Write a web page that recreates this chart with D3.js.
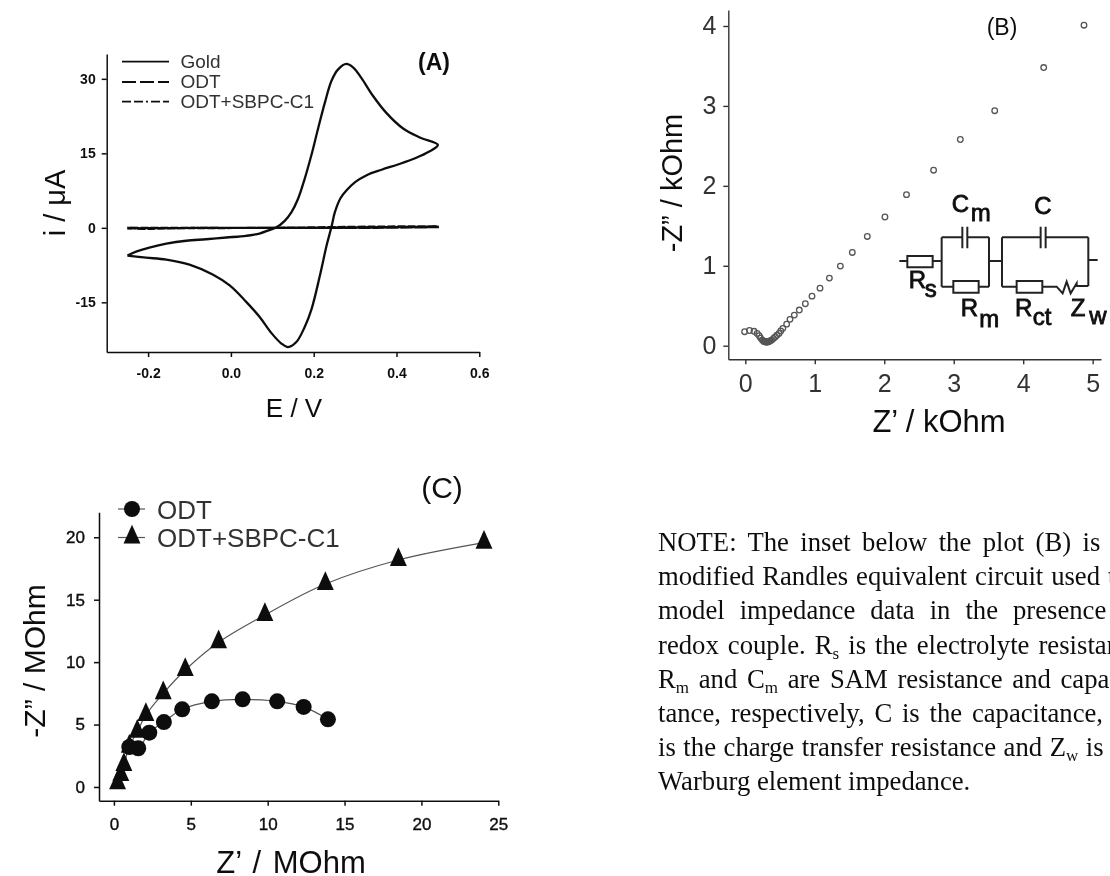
<!DOCTYPE html>
<html>
<head>
<meta charset="utf-8">
<script src="https://cdn.jsdelivr.net/npm/d3@7"></script>
<style>
	html, body { margin: 0; padding: 0; background: #fff; }
	text { font-family: "Liberation Sans", Arial, sans-serif; }
	.note { font-family: "Liberation Serif", "Times New Roman", serif; font-size: 26.7px; fill: #111; }
</style>
</head>
<body>
<script>
// Panel A: cyclic voltammograms, [E / V, i / uA]
var goldForward = [[-0.25,-5.6],[-0.229,-4.8],[-0.197,-4.0],[-0.156,-3.2],[-0.108,-2.6],[-0.06,-2.3],[-0.011,-1.95],[0.037,-1.6],[0.069,-1.15],[0.094,-0.4],[0.11,0.1],[0.13,1.4],[0.146,3.1],[0.162,5.8],[0.178,9.8],[0.194,14.5],[0.21,19.8],[0.227,25.2],[0.243,29.6],[0.259,31.9],[0.279,33],[0.295,32.3],[0.315,30.2],[0.343,26.6],[0.376,23.1],[0.416,20],[0.456,18.2],[0.5,16.7]];
var goldBackward = [[0.5,16.7],[0.478,15.3],[0.445,14],[0.405,12.8],[0.364,11.7],[0.328,10.6],[0.3,9.2],[0.28,7.6],[0.265,6],[0.251,3.1],[0.243,0.2],[0.231,-3.6],[0.215,-9.6],[0.195,-16.3],[0.178,-20],[0.158,-23],[0.138,-24],[0.122,-23.3],[0.098,-21.2],[0.069,-17.9],[0.037,-14.9],[-0.003,-11.6],[-0.044,-9.4],[-0.1,-7.4],[-0.156,-6.4],[-0.205,-6],[-0.25,-5.6]];
var odtCurve = [[-0.25,0],[-0.2,-0.05],[0,0],[0.2,0],[0.35,0.1],[0.5,0.15],[0.35,0],[0,0],[-0.25,-0.1]];
var sbpcCurve = [[-0.25,-0.05],[-0.2,-0.2],[-0.16,-0.1],[0.1,0],[0.35,0.25],[0.5,0.3],[0.2,0],[-0.25,0]];
var aXTicks = [-0.2, 0, 0.2, 0.4, 0.6];
var aYTicks = [-15, 0, 15, 30];
var aLegend = ['Gold', 'ODT', 'ODT+SBPC-C1'];

// Panel B: impedance, [Z' / kOhm, -Z'' / kOhm]
var bPoints = [[-0.01,0.175],[0.06,0.19],[0.125,0.18],[0.17,0.154],[0.2,0.125],[0.22,0.095],[0.245,0.07],[0.26,0.06],[0.27,0.054],[0.28,0.052],[0.285,0.05],[0.295,0.048],[0.3,0.048],[0.31,0.046],[0.32,0.048],[0.33,0.05],[0.34,0.054],[0.35,0.058],[0.36,0.062],[0.38,0.07],[0.405,0.09],[0.43,0.11],[0.455,0.13],[0.485,0.154],[0.51,0.185],[0.54,0.217],[0.595,0.27],[0.643,0.33],[0.705,0.383],[0.777,0.446],[0.864,0.525],[0.96,0.62],[1.075,0.72],[1.21,0.846],[1.368,0.996],[1.54,1.167],[1.756,1.367],[2.01,1.61],[2.32,1.89],[2.71,2.196],[3.095,2.58],[3.59,2.94],[4.295,3.48],[4.875,4.01]];
var bXTicks = [0, 1, 2, 3, 4, 5];
var bYTicks = [0, 1, 2, 3, 4];

// Panel C: impedance, [Z' / MOhm, -Z'' / MOhm]
var cOdt = [[1.0,3.2],[1.58,3.1],[2.3,4.35],[3.25,5.2],[4.44,6.22],[6.37,6.86],[8.37,7.02],[10.62,6.86],[12.34,6.41],[13.92,5.42]];
var cSbpc = [[0.24,0.29],[0.45,0.96],[0.65,1.76],[1.0,3.23],[1.52,4.43],[2.08,5.77],[3.21,7.5],[4.64,9.37],[6.81,11.59],[9.82,13.78],[13.75,16.26],[18.5,18.18],[24.07,19.57]];
var cXTicks = [0, 5, 10, 15, 20, 25];
var cYTicks = [0, 5, 10, 15, 20];
var cLegend = ['ODT', 'ODT+SBPC-C1'];

var noteLines = [
	['NOTE: The inset below the plot (B) is the'],
	['modified Randles equivalent circuit used to'],
	['model impedance data in the presence of'],
	['redox couple. R', {sub: 's'}, ' is the electrolyte resistance,'],
	['R', {sub: 'm'}, ' and C', {sub: 'm'}, ' are SAM resistance and capaci-'],
	['tance, respectively, C is the capacitance, R', {sub: 'ct'}],
	['is the charge transfer resistance and Z', {sub: 'w'}, ' is the'],
	['Warburg element impedance.']
];
var noteWordSpacing = [4.7, 1.2, 8.3, 2.4, 3, 3.1, 0.9, 0];

var svg = d3.select('body').append('svg')
	.attr('width', 1110)
	.attr('height', 876);

// Soft focus, the reference is a scanned figure
svg.append('defs').append('filter').attr('id', 'soft')
	.append('feGaussianBlur').attr('stdDeviation', 0.5);

var root = svg.append('g').attr('filter', 'url(#soft)');

var hyphenFormat = function(spec) {
	var f = d3.format(spec);
	return function(d) { return f(d).replace('\u2212', '-'); };
};

function styleAxis(g, color, width, labelSize, labelWeight) {
	g.selectAll('path, line').attr('stroke', color).attr('stroke-width', width);
	g.selectAll('text')
		.attr('fill', color)
		.style('font-size', labelSize + 'px')
		.style('font-weight', labelWeight);
}

function label(text, x, y, size, weight, rotate, color) {
	var t = root.append('text')
		.attr('text-anchor', 'middle')
		.attr('font-size', size)
		.attr('font-weight', weight || 400)
		.attr('fill', color || '#111')
		.text(text);
	if (rotate) t.attr('transform', 'translate(' + x + ',' + y + ') rotate(-90)');
	else t.attr('x', x).attr('y', y);
	return t;
}

// ---- Panel A ----
var ax = d3.scaleLinear().domain([-0.3, 0.6]).range([106.7, 479.3]);
var ay = d3.scaleLinear().domain([-25, 35]).range([352, 54]);
var aLine = d3.line()
	.x(function(d) { return ax(d[0]); })
	.y(function(d) { return ay(d[1]); })
	.curve(d3.curveCatmullRom.alpha(0.5));

var aBottom = root.append('g').attr('transform', 'translate(0,352)')
	.call(d3.axisBottom(ax).tickValues(aXTicks).tickFormat(hyphenFormat('.1f')).tickSizeInner(5).tickSizeOuter(0).tickPadding(11));
styleAxis(aBottom, '#111', 1.5, 14, 700);
var aLeft = root.append('g').attr('transform', 'translate(106.7,0)')
	.call(d3.axisLeft(ay).tickValues(aYTicks).tickFormat(hyphenFormat('d')).tickSizeInner(5).tickSizeOuter(0).tickPadding(6));
styleAxis(aLeft, '#111', 1.5, 14, 700);

root.append('path').attr('d', aLine(goldForward.concat(goldBackward.slice(1))))
	.attr('fill', 'none').attr('stroke', '#111').attr('stroke-width', 2.3);
root.append('path').attr('d', aLine(odtCurve))
	.attr('fill', 'none').attr('stroke', '#111').attr('stroke-width', 2.2).attr('stroke-dasharray', '12,2');
root.append('path').attr('d', aLine(sbpcCurve))
	.attr('fill', 'none').attr('stroke', '#111').attr('stroke-width', 2.2).attr('stroke-dasharray', '8,2');

var aDash = [null, '14,4', '9,3,9,3,2,3'];
var aLegendLineY = [61.7, 82, 101.7];
aLegend.forEach(function(name, i) {
	root.append('line').attr('x1', 122).attr('x2', 169).attr('y1', aLegendLineY[i]).attr('y2', aLegendLineY[i])
		.attr('stroke', '#111').attr('stroke-width', 1.8).attr('stroke-dasharray', aDash[i]);
	root.append('text').attr('x', 180.5).attr('y', aLegendLineY[i] + 6.3).attr('font-size', 19).attr('fill', '#333').text(name);
});
label('(A)', 434, 70, 23, 700);
label('E / V', 294, 417, 26, 400);
label('i / \u03bcA', 65, 203, 29, 400, true);

// ---- Panel B ----
var bx = d3.scaleLinear().domain([-0.245, 5.12]).range([728.3, 1101]);
var by = d3.scaleLinear().domain([-0.17, 4.2]).range([359.3, 10]);

var bBottom = root.append('g').attr('transform', 'translate(0,359.3)')
	.call(d3.axisBottom(bx).tickValues(bXTicks).tickFormat(d3.format('d')).tickSizeInner(5).tickSizeOuter(0).tickPadding(10));
styleAxis(bBottom, '#333', 1.4, 25, 400);
var bLeft = root.append('g').attr('transform', 'translate(728.3,0)')
	.call(d3.axisLeft(by).tickValues(bYTicks).tickFormat(d3.format('d')).tickSizeInner(5).tickSizeOuter(0).tickPadding(7));
styleAxis(bLeft, '#333', 1.4, 25, 400);

root.append('g').selectAll('circle').data(bPoints).enter().append('circle')
	.attr('cx', function(d) { return bx(d[0]); })
	.attr('cy', function(d) { return by(d[1]); })
	.attr('r', 2.8)
	.attr('fill', 'none')
	.attr('stroke', '#555')
	.attr('stroke-width', 1.3);

label('(B)', 1002, 35, 23, 400);
label('Z\u2019 / kOhm', 939, 431.5, 31, 400);
label('-Z\u201d / kOhm', 682, 183, 29, 400, true);

// Equivalent circuit inset, local units are 3x pixels
var inset = root.append('g').attr('transform', 'translate(880,180) scale(0.3333)');
inset.append('path')
	.attr('fill', 'none').attr('stroke', '#222').attr('stroke-width', 6)
	.attr('d', 'M58,243H82M82,228H158V262H82ZM158,243H185M185,172V320M185,172H247M247,140V205M262,140V205M262,172H327M327,172V320M185,320H220M220,303H296V338H220ZM296,320H327M327,243H366M366,172V320M366,172H482M482,140V205M497,140V205M497,172H625M625,172V318M625,240H653M366,320H410M410,303H487V338H410ZM487,320H530L548,340L560,305L572,340L590,310V318H625');
function circuitLabel(main, sub, x, y, subX, subY) {
	var g = inset.append('g').attr('fill', '#111').attr('stroke', '#111').attr('stroke-width', 2.5);
	g.append('text').attr('x', x).attr('y', y).attr('font-size', 72).text(main);
	if (sub) g.append('text').attr('x', subX).attr('y', subY).attr('font-size', 72).text(sub);
}
circuitLabel('C', 'm', 215, 97, 272, 123);
circuitLabel('C', '', 463, 103);
circuitLabel('R', 's', 86, 325, 134, 352);
circuitLabel('R', 'm', 242, 408, 298, 440);
circuitLabel('R', 'ct', 405, 408, 458, 435);
circuitLabel('Z', 'w', 572, 408, 628, 432);

// ---- Panel C ----
var cx = d3.scaleLinear().domain([-0.97, 25]).range([99, 498.3]);
var cy = d3.scaleLinear().domain([-1.1, 22]).range([800.7, 512.3]);
var cLine = d3.line()
	.x(function(d) { return cx(d[0]); })
	.y(function(d) { return cy(d[1]); })
	.curve(d3.curveCatmullRom.alpha(0.5));

var cBottom = root.append('g').attr('transform', 'translate(0,800.7)')
	.call(d3.axisBottom(cx).tickValues(cXTicks).tickFormat(d3.format('d')).tickSizeInner(5).tickSizeOuter(0).tickPadding(12));
styleAxis(cBottom, '#111', 1.5, 17, 400);
var cLeft = root.append('g').attr('transform', 'translate(99,0)')
	.call(d3.axisLeft(cy).tickValues(cYTicks).tickFormat(d3.format('d')).tickSizeInner(5).tickSizeOuter(0).tickPadding(9));
styleAxis(cLeft, '#111', 1.5, 17, 400);
cBottom.selectAll('text').attr('stroke', '#111').attr('stroke-width', 0.4);
cLeft.selectAll('text').attr('stroke', '#111').attr('stroke-width', 0.4);

// Tall triangle, the d3 one is too flat here
var tallTriangle = {
	draw: function(context, size) {
		var h = Math.sqrt(size * 2.2), w = h * 0.9;
		context.moveTo(0, -h * 0.68);
		context.lineTo(w / 2, h * 0.32);
		context.lineTo(-w / 2, h * 0.32);
		context.closePath();
	}
};
var triangle = d3.symbol().type(tallTriangle).size(160);

root.append('path').attr('d', cLine(cOdt))
	.attr('fill', 'none').attr('stroke', '#555').attr('stroke-width', 1.2);
root.append('path').attr('d', cLine(cSbpc))
	.attr('fill', 'none').attr('stroke', '#555').attr('stroke-width', 1.2);
root.append('g').selectAll('circle').data(cOdt).enter().append('circle')
	.attr('cx', function(d) { return cx(d[0]); })
	.attr('cy', function(d) { return cy(d[1]); })
	.attr('r', 8)
	.attr('fill', '#0a0a0a');
root.append('g').selectAll('path').data(cSbpc).enter().append('path')
	.attr('d', triangle)
	.attr('transform', function(d) { return 'translate(' + cx(d[0]) + ',' + cy(d[1]) + ')'; })
	.attr('fill', '#0a0a0a');

// legend in panel C
cLegend.forEach(function(name, i) {
	var y = 509 + i * 28.5;
	root.append('line').attr('x1', 118).attr('x2', 145).attr('y1', y).attr('y2', y)
		.attr('stroke', '#555').attr('stroke-width', 1.2);
	if (i === 0) {
		root.append('circle').attr('cx', 132).attr('cy', y).attr('r', 8).attr('fill', '#0a0a0a');
	} else {
		root.append('path').attr('d', triangle)
			.attr('transform', 'translate(132,' + y + ')').attr('fill', '#0a0a0a');
	}
	root.append('text').attr('x', 157).attr('y', y + 9.5).attr('font-size', 26).attr('fill', '#333').text(name);
});

label('(C)', 442, 498, 30, 400);
label('Z\u2019 / MOhm', 291, 873, 31, 400).attr('word-spacing', 3);
label('-Z\u201d / MOhm', 45, 661, 30, 400, true);

// ---- Note ----
var note = root.append('g');
noteLines.forEach(function(parts, i) {
	var t = note.append('text')
		.attr('class', 'note')
		.attr('x', 658)
		.attr('y', 551 + i * 34.2)
		.attr('word-spacing', noteWordSpacing[i]);
	var back = 0;
	parts.forEach(function(p) {
		if (typeof p === 'string') {
			t.append('tspan').attr('dy', back).text(p);
			back = 0;
		} else {
			t.append('tspan').attr('font-size', 17).attr('dy', 5).text(p.sub);
			back = -5;
		}
	});
});
</script>
</body>
</html>
